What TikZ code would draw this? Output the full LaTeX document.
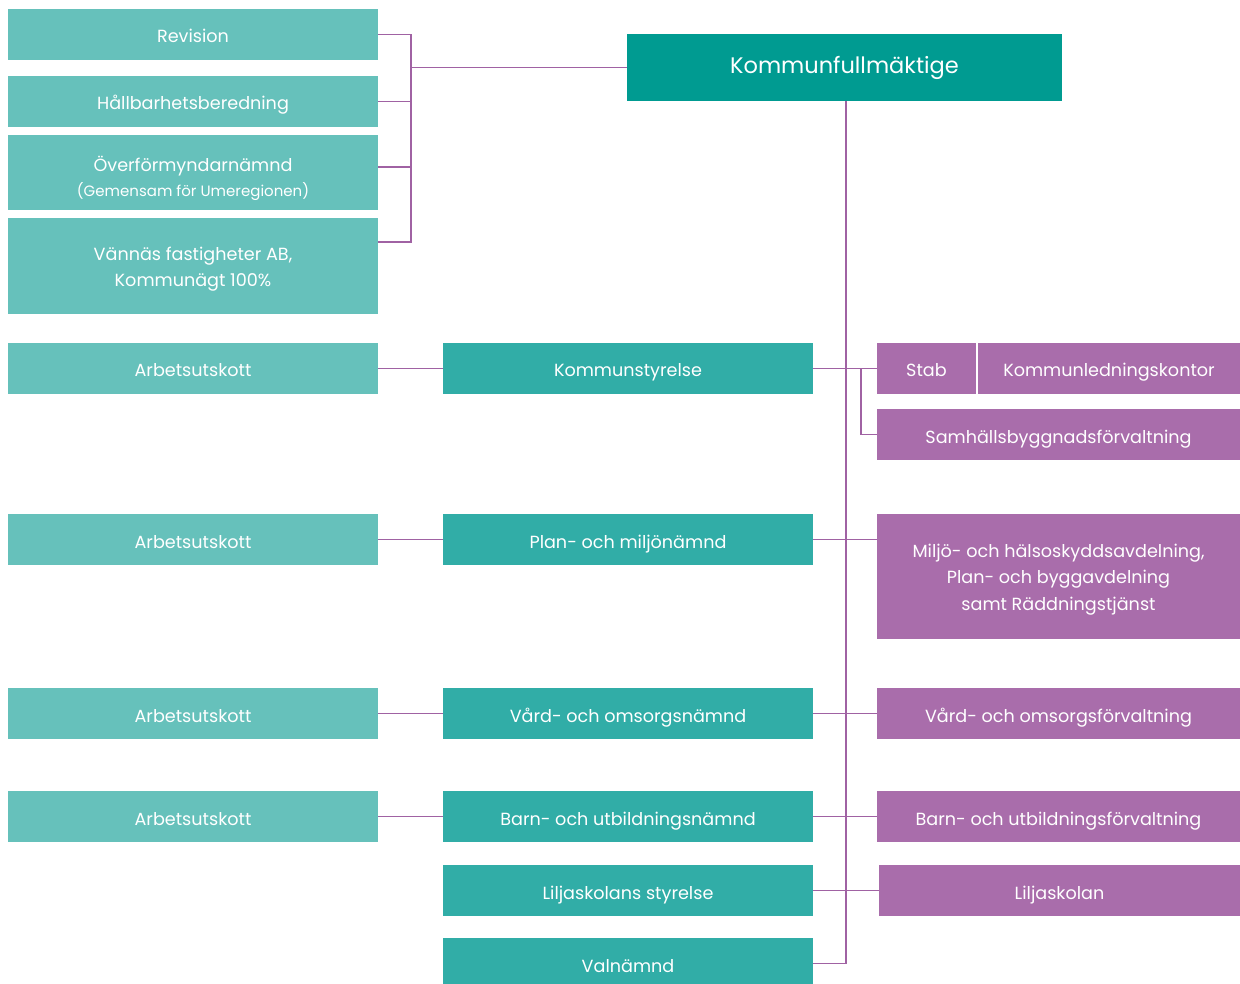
\documentclass[tikz,border=0pt]{standalone}
\usepackage{fontspec}
\setmainfont{Poppins}
\usetikzlibrary{calc}
\definecolor{lteal}{HTML}{66C1BB}
\definecolor{mteal}{HTML}{31ADA7}
\definecolor{dteal}{HTML}{009B91}
\definecolor{purp}{HTML}{A96DAB}
\definecolor{conn}{HTML}{A062A3}
\tikzset{
  box/.style={inner sep=0pt, outer sep=0pt, anchor=north west, text=white, align=center, font=\fontsize{17.6}{24}\selectfont},
  one/.style={text height=17pt, text depth=0pt},
  lbox/.style={box, fill=lteal, minimum width=370pt},
  mbox/.style={box, one, fill=mteal, minimum width=370pt, minimum height=51pt},
  rbox/.style={box, fill=purp},
  wire/.style={draw=conn, line width=1.8pt}
}
\begin{document}
\begin{tikzpicture}[x=1pt,y=-1pt]
\useasboundingbox (0,0) rectangle (1240,984);
% left upper column
\node[lbox, one, minimum height=51pt] (rev) at (8,9) {Revision};
\node[lbox, one, minimum height=51pt] (hb) at (8,76) {Hållbarhetsberedning};
\node[lbox, minimum height=75pt, font=\fontsize{17.6}{25}\selectfont, text height=49pt, text depth=0pt] (of) at (8,135) {Överförmyndarnämnd\\{\fontsize{15}{18}\selectfont(Gemensam för Umeregionen)}};
\node[lbox, minimum height=96pt, font=\fontsize{17.6}{26}\selectfont, text height=41pt, text depth=0pt] (vf) at (8,218) {Vännäs fastigheter AB,\\Kommunägt 100\%};
% top
\node[box, fill=dteal, minimum width=435pt, minimum height=67pt, font=\fontsize{22.5}{30}\selectfont] (kf) at (627,34) {Kommunfullmäktige};
% arbetsutskott
\node[lbox, one, minimum height=51pt] (au1) at (8,343) {Arbetsutskott};
\node[lbox, one, minimum height=51pt] (au2) at (8,514) {Arbetsutskott};
\node[lbox, one, minimum height=51pt] (au3) at (8,688) {Arbetsutskott};
\node[lbox, one, minimum height=51pt] (au4) at (8,791) {Arbetsutskott};
% middle
\node[mbox] (ks) at (443,343) {Kommunstyrelse};
\node[mbox] (pm) at (443,514) {Plan- och miljönämnd};
\node[mbox] (vo) at (443,688) {Vård- och omsorgsnämnd};
\node[mbox] (bu) at (443,791) {Barn- och utbildningsnämnd};
\node[mbox] (ls) at (443,865) {Liljaskolans styrelse};
\node[mbox] (val) at (443,938) {Valnämnd};
% right
\node[rbox, one, minimum width=99pt, minimum height=51pt] (stab) at (877,343) {Stab};
\node[rbox, one, minimum width=262pt, minimum height=51pt] (klk) at (978,343) {Kommunledningskontor};
\node[rbox, one, minimum width=363pt, minimum height=51pt] (sam) at (877,409) {Samhällsbyggnadsförvaltning};
\node[rbox, minimum width=363pt, minimum height=125pt, font=\fontsize{17.6}{26.5}\selectfont, text height=67pt, text depth=0pt] (mil) at (877,514) {Miljö- och hälsoskyddsavdelning,\\Plan- och byggavdelning\\samt Räddningstjänst};
\node[rbox, one, minimum width=363pt, minimum height=51pt] (vof) at (877,688) {Vård- och omsorgsförvaltning};
\node[rbox, one, minimum width=363pt, minimum height=51pt] (buf) at (877,791) {Barn- och utbildningsförvaltning};
\node[rbox, one, minimum width=361pt, minimum height=51pt] (lj) at (879,865) {Liljaskolan};
% coordinates
\coordinate (bx) at (411,0);
\coordinate (tb) at (846,0);
\coordinate (br) at (861,0);
\coordinate (ofc) at ($(of.north east)+(0,32)$);
\coordinate (vfc) at ($(vf.north east)+(0,24)$);
% left bracket
\draw[wire] (rev.east) -- (rev.east -| bx) -- (vfc -| bx) -- (vfc);
\draw[wire] (hb.east) -- (hb.east -| bx);
\draw[wire] (ofc) -- (ofc -| bx);
\draw[wire] (bx |- kf.west) -- (kf.west);
% trunk
\draw[wire] (kf.south -| tb) -- (tb |- val.east) -- (val.east);
% rows
\draw[wire] (au1.east) -- (ks.west);
\draw[wire] (au2.east) -- (pm.west);
\draw[wire] (au3.east) -- (vo.west);
\draw[wire] (au4.east) -- (bu.west);
\draw[wire] (ks.east) -- (stab.west);
\draw[wire] (ks.east -| br) |- (sam.west);
\draw[wire] (pm.east) -- (pm.east -| mil.west);
\draw[wire] (vo.east) -- (vof.west);
\draw[wire] (bu.east) -- (buf.west);
\draw[wire] (ls.east) -- (lj.west);
\end{tikzpicture}
\end{document}
